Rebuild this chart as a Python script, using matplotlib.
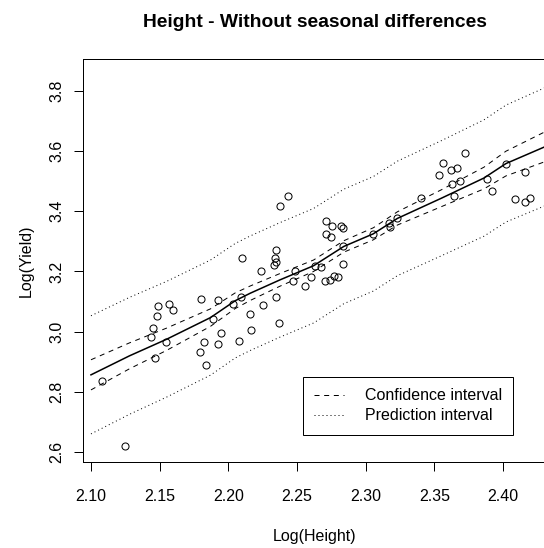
import matplotlib
matplotlib.use('Agg')
import matplotlib.pyplot as plt

plt.rcParams['font.family'] = ['Liberation Sans', 'DejaVu Sans']
plt.rcParams['lines.scale_dashes'] = False

# observed points (log height, log yield)
log_height = [2.1078, 2.1247, 2.144, 2.1453, 2.1468, 2.1478, 2.149, 2.1546, 2.1568, 2.160,
              2.1793, 2.180, 2.1825, 2.184, 2.1885, 2.1927, 2.1927, 2.1943, 2.2036, 2.2075,
              2.209, 2.210, 2.2157, 2.2164, 2.224, 2.2254, 2.2332, 2.2337, 2.235, 2.235,
              2.235, 2.2368, 2.2376, 2.2432, 2.2468, 2.2487, 2.256, 2.2604, 2.2628, 2.2672,
              2.270, 2.271, 2.271, 2.274, 2.2749, 2.2755, 2.2769, 2.280, 2.2822, 2.2836,
              2.2836, 2.2836, 2.3055, 2.317, 2.3177, 2.3225, 2.340, 2.3535, 2.3562, 2.3618,
              2.3625, 2.364, 2.3662, 2.3683, 2.372, 2.388, 2.3918, 2.402, 2.4086, 2.416,
              2.416, 2.4197]
log_yield = [2.838, 2.620, 2.983, 3.013, 2.912, 3.053, 3.084, 2.966, 3.092, 3.073,
             2.932, 3.110, 2.967, 2.890, 3.042, 3.106, 2.959, 2.997, 3.092, 2.970,
             3.115, 3.245, 3.059, 3.006, 3.201, 3.090, 3.221, 3.245, 3.270, 3.230,
             3.115, 3.029, 3.418, 3.450, 3.170, 3.201, 3.152, 3.183, 3.217, 3.215,
             3.168, 3.369, 3.323, 3.172, 3.316, 3.350, 3.186, 3.183, 3.352, 3.343,
             3.283, 3.226, 3.325, 3.361, 3.348, 3.377, 3.445, 3.519, 3.560, 3.538,
             3.491, 3.452, 3.542, 3.501, 3.594, 3.508, 3.468, 3.558, 3.441, 3.529,
             3.429, 3.444]

# fitted line and interval half widths
fit_x = [2.100, 2.128, 2.155, 2.187, 2.205, 2.216, 2.2375, 2.262, 2.284, 2.3055,
         2.323, 2.355, 2.386, 2.402, 2.432]
fit_y = [2.857, 2.920, 2.975, 3.047, 3.103, 3.128, 3.172, 3.219, 3.283, 3.325,
         3.376, 3.443, 3.510, 3.558, 3.617]
ci_half = [0.050, 0.043, 0.037, 0.029, 0.026, 0.024, 0.021, 0.019, 0.019, 0.020,
           0.022, 0.028, 0.036, 0.041, 0.050]
pi_half = [0.196, 0.194, 0.192, 0.191, 0.190, 0.190, 0.190, 0.190, 0.190, 0.190,
           0.190, 0.191, 0.193, 0.194, 0.196]

x_ticks = [2.10, 2.15, 2.20, 2.25, 2.30, 2.35, 2.40]
y_ticks = [2.6, 2.8, 3.0, 3.2, 3.4, 3.6, 3.8]

W, H = 544, 548
fig = plt.figure(figsize=(W / 96, H / 96), dpi=96)
ax = fig.add_axes([83 / W, 1 - 462 / H, (547 - 83) / W, (462 - 59) / H])

ax.plot(log_height, log_yield, linestyle='none', marker='o', markersize=5.3,
        markerfacecolor='none', markeredgecolor='black', markeredgewidth=0.75)
ax.plot(fit_x, fit_y, color='black', lw=1.15)

ci_hi = [f + h for f, h in zip(fit_y, ci_half)]
ci_lo = [f - h for f, h in zip(fit_y, ci_half)]
pi_hi = [f + h for f, h in zip(fit_y, pi_half)]
pi_lo = [f - h for f, h in zip(fit_y, pi_half)]
dash = (0, (3.75, 3.5))
dot = (0, (0.75, 2.25))
ax.plot(fit_x, ci_hi, color='black', lw=0.75, linestyle=dash, label='Confidence interval')
ax.plot(fit_x, ci_lo, color='black', lw=0.75, linestyle=dash)
ax.plot(fit_x, pi_hi, color='black', lw=0.75, linestyle=dot, label='Prediction interval')
ax.plot(fit_x, pi_lo, color='black', lw=0.75, linestyle=dot)

ax.set_xlim(2.0942, 2.4319)
ax.set_ylim(2.5678, 3.905)
ax.set_xticks(x_ticks)
ax.set_xticklabels(['%.2f' % v for v in x_ticks])
ax.set_yticks(y_ticks)
ax.set_yticklabels(['%.1f' % v for v in y_ticks], rotation=90, va='center')
ax.tick_params(length=7, width=0.75, labelsize=12, pad=13)
ax.tick_params(axis='y', pad=7)
for s in ax.spines.values():
    s.set_linewidth(0.75)

ax.set_xlabel('Log(Height)', fontsize=12, labelpad=19)
ax.set_ylabel('Log(Yield)', fontsize=12, labelpad=12)
ax.set_title('Height - Without seasonal differences', fontsize=14.4,
             fontweight='bold', pad=24)

leg = ax.legend(loc='upper left', bbox_to_anchor=(302.7 / W, 1 - 377.3 / H),
                bbox_transform=fig.transFigure, borderaxespad=0, fontsize=12,
                fancybox=False, edgecolor='black', framealpha=1,
                handlelength=1.9, handletextpad=1.3, borderpad=0.7,
                labelspacing=0.3)
leg.get_frame().set_linewidth(0.75)

fig.savefig('out.png', dpi=96)
